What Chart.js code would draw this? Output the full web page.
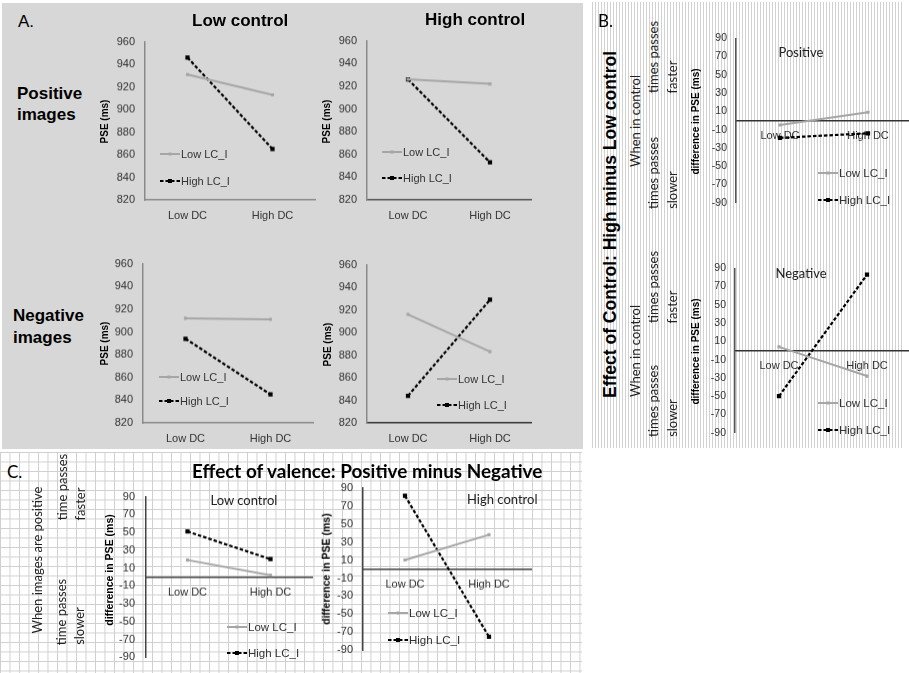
<!DOCTYPE html>
<html><head><meta charset="utf-8">
<script src="https://cdn.jsdelivr.net/npm/chart.js@4.4.1/dist/chart.umd.min.js"></script>
<style>
html,body{margin:0;padding:0;background:#fff;}
#page{position:relative;width:909px;height:673px;overflow:hidden;background:#fff;}
.bg{position:absolute;}
canvas{position:absolute;}
.t{position:absolute;white-space:nowrap;line-height:1;}
svg{position:absolute;overflow:visible;}
</style></head><body><div id="page">
<div class="bg" id="bgA" style="left:2px;top:3px;width:581px;height:446px;background:#d7d7d7;"></div>
<div class="bg" id="bgB" style="left:590px;top:2px;width:314px;height:446px;background:repeating-linear-gradient(to right,#fff 0px,#fff 2px,#d2d2d2 2px,#d2d2d2 3px);"></div>
<div class="bg" id="bgC" style="left:0px;top:452px;width:582px;height:221px;background-color:#fff;background-image:linear-gradient(to right,#cfcfcf 1px,transparent 1px),linear-gradient(to bottom,#cfcfcf 1px,transparent 1px);background-size:9.5px 9.5px;"></div>
</div>
<script>
// ---------------- DATA ----------------
const categories = ["Low DC", "High DC"];
const seriesNames = ["Low LC_I", "High LC_I"];
// Panel A: PSE (ms)
const A_posLowCtrl_lowLC  = [931, 913];
const A_posLowCtrl_highLC = [946, 865];
const A_posHighCtrl_lowLC  = [926, 922];
const A_posHighCtrl_highLC = [926, 853];
const A_negLowCtrl_lowLC  = [912, 911];
const A_negLowCtrl_highLC = [894, 845];
const A_negHighCtrl_lowLC  = [916, 883];
const A_negHighCtrl_highLC = [844, 929];
// Panel B: High minus Low control
const B_pos_lowLC  = [-5, 9];
const B_pos_highLC = [-19, -14];
const B_neg_lowLC  = [4, -28];
const B_neg_highLC = [-50, 83];
// Panel C: Positive minus Negative
const C_lowCtrl_lowLC  = [19, 2];
const C_lowCtrl_highLC = [51, 20];
const C_highCtrl_lowLC  = [10, 38];
const C_highCtrl_highLC = [81, -75];
// tick labels
const A_yTicks = [820, 840, 860, 880, 900, 920, 940, 960];
const diff_yTicks = [-90, -70, -50, -30, -10, 10, 30, 50, 70, 90];

// ---------------- HELPERS ----------------
const page = document.getElementById('page');
const FA = "'Liberation Sans', Arial, sans-serif";
const FL = "Lato, 'Open Sans', sans-serif";
Chart.defaults.font.family = FA;

function T(txt, o) {
  const d = document.createElement('div');
  d.className = 't';
  d.textContent = txt;
  const fam = o.fam || FA;
  let size = o.size;
  d.style.font = (o.wt || 400) + ' ' + size + 'px ' + fam;
  d.style.color = o.col || '#000';
  page.appendChild(d);
  let w = d.offsetWidth;
  if (o.fitW) {
    size = size * o.fitW / w;
    d.style.font = (o.wt || 400) + ' ' + size + 'px ' + fam;
    w = d.offsetWidth;
  }
  const h = d.offsetHeight;
  if (!o.rot) {
    let left = o.x;
    if (o.al === 'c') left = o.x - w / 2; else if (o.al === 'r') left = o.x - w;
    d.style.left = left + 'px';
    d.style.top = (o.y - h / 2) + 'px';
  } else {
    let cy = o.y;
    if (o.al === 'b') cy = o.y - w / 2;
    d.style.left = (o.x - w / 2) + 'px';
    d.style.top = (cy - h / 2) + 'px';
    d.style.transform = 'rotate(-90deg)';
  }
  return d;
}

function leg(x, y, type, text, size) {
  const s = document.createElementNS('http://www.w3.org/2000/svg', 'svg');
  s.setAttribute('width', 22); s.setAttribute('height', 8);
  s.style.left = x + 'px'; s.style.top = (y - 4) + 'px';
  if (type === 0) {
    s.innerHTML = '<line x1="0" y1="4" x2="20" y2="4" stroke="#a6a6a6" stroke-width="2"/><rect x="8.5" y="2.5" width="3" height="3" fill="#a6a6a6"/>';
  } else {
    s.innerHTML = '<line x1="0" y1="4" x2="20" y2="4" stroke="#000" stroke-width="2" stroke-dasharray="3.5 2"/><rect x="8" y="2" width="4" height="4" fill="#000"/>';
  }
  page.appendChild(s);
  T(text, {x: x + 21, y: y, size: size, col: '#333'});
}

function cfg(o, Hx, Wy, padT, padR, padB) {
  const ticks = o.ticks;
  return {
    type: 'line',
    data: {
      labels: categories,
      datasets: [
        {label: seriesNames[0], data: o.low, borderColor: '#a6a6a6', backgroundColor: '#a6a6a6',
         borderWidth: 2, pointStyle: 'rect', pointRadius: 2.2, pointBorderWidth: 0, tension: 0},
        {label: seriesNames[1], data: o.high, borderColor: '#000', backgroundColor: '#000',
         borderWidth: 2.2, borderDash: [3.5, 2], pointStyle: 'rect', pointRadius: 3, pointBorderWidth: 0, tension: 0}
      ]
    },
    options: {
      responsive: false, animation: false, devicePixelRatio: 1,
      layout: {padding: {top: padT, right: padR, bottom: padB, left: 0}},
      plugins: {legend: {display: false}, tooltip: {enabled: false}},
      scales: {
        x: {
          type: 'category', offset: true,
          position: o.zero ? {y: 0} : 'bottom',
          grid: {display: false, drawTicks: false},
          border: {display: true, color: o.xCol, width: o.xW || 1.5},
          ticks: {padding: o.xPad, color: '#333', maxRotation: 0, autoSkip: false,
                  font: {family: FA, size: o.xFont}},
          afterFit: s => { s.height = Hx; }
        },
        y: {
          type: 'linear', position: 'left',
          min: ticks[0], max: ticks[ticks.length - 1],
          grid: {display: false, drawTicks: false},
          border: {display: true, color: o.yCol, width: 1.5},
          ticks: {stepSize: ticks[1] - ticks[0], padding: o.yPad, color: '#333',
                  font: {family: FA, size: o.yFont}},
          afterFit: s => { s.width = Wy; }
        }
      }
    }
  };
}

function mk(o) {
  const Wy = 44, padT = 12, padR = 2, Hx = o.zero ? 0 : 30, padB = o.zero ? 10 : 0;
  const cv = document.createElement('canvas');
  page.appendChild(cv);
  const setSize = (w, h) => { cv.width = w; cv.height = h; cv.style.width = w + 'px'; cv.style.height = h + 'px'; };
  let cw = (o.right - o.left) + Wy + padR, ch = (o.bottom - o.top) + padT + Hx + padB;
  setSize(cw, ch);
  let chart = new Chart(cv, cfg(o, Hx, Wy, padT, padR, padB));
  let ca = chart.chartArea;
  const dw = (o.right - o.left) - (ca.right - ca.left), dh = (o.bottom - o.top) - (ca.bottom - ca.top);
  if (Math.abs(dw) > 0.5 || Math.abs(dh) > 0.5) {
    chart.destroy();
    setSize(cw + dw, ch + dh);
    chart = new Chart(cv, cfg(o, Hx, Wy, padT, padR, padB));
    ca = chart.chartArea;
  }
  cv.style.left = (o.left - ca.left) + 'px';
  cv.style.top = (o.top - ca.top) + 'px';
  return chart;
}

// ---------------- PANEL A ----------------
const aBase = {ticks: A_yTicks, xPad: 9, yPad: 10, xFont: 11, yFont: 11, yCol: '#8a8a8a'};
mk(Object.assign({}, aBase, {left: 145, top: 42, right: 315, bottom: 200, low: A_posLowCtrl_lowLC, high: A_posLowCtrl_highLC, xCol: '#8a8a8a'}));
mk(Object.assign({}, aBase, {left: 367, top: 41, right: 531, bottom: 200, low: A_posHighCtrl_lowLC, high: A_posHighCtrl_highLC, xCol: '#555'}));
mk(Object.assign({}, aBase, {left: 143, top: 264, right: 313, bottom: 423, low: A_negLowCtrl_lowLC, high: A_negLowCtrl_highLC, xCol: '#8a8a8a'}));
mk(Object.assign({}, aBase, {left: 367, top: 265, right: 531, bottom: 423, low: A_negHighCtrl_lowLC, high: A_negHighCtrl_highLC, xCol: '#333'}));

T('A.', {x: 18, y: 22, size: 17});
T('Low control', {x: 192, y: 21, size: 17, wt: 700});
T('High control', {x: 425, y: 20, size: 17, wt: 700});
T('Positive', {x: 17, y: 94, size: 17, wt: 700});
T('images', {x: 17, y: 115, size: 17, wt: 700});
T('Negative', {x: 13, y: 316, size: 17, wt: 700});
T('images', {x: 13, y: 338, size: 17, wt: 700});
T('PSE (ms)', {x: 105, y: 121, size: 10, wt: 700, rot: true});
T('PSE (ms)', {x: 327, y: 121, size: 10, wt: 700, rot: true});
T('PSE (ms)', {x: 105, y: 343, size: 10, wt: 700, rot: true});
T('PSE (ms)', {x: 328, y: 344, size: 10, wt: 700, rot: true});
leg(160, 154, 0, seriesNames[0], 11); leg(160, 181, 1, seriesNames[1], 11);
leg(382, 152, 0, seriesNames[0], 11); leg(382, 178, 1, seriesNames[1], 11);
leg(159, 377, 0, seriesNames[0], 11); leg(159, 401, 1, seriesNames[1], 11);
leg(437, 379, 0, seriesNames[0], 11); leg(437, 405, 1, seriesNames[1], 11);

// ---------------- PANEL B ----------------
const bBase = {ticks: diff_yTicks, zero: true, xPad: 9, yPad: 9, xFont: 11, yFont: 10.5, yCol: '#555', xCol: '#333'};
mk(Object.assign({}, bBase, {left: 736, top: 38, right: 912, bottom: 203, low: B_pos_lowLC, high: B_pos_highLC}));
mk(Object.assign({}, bBase, {left: 735, top: 268, right: 911, bottom: 433, low: B_neg_lowLC, high: B_neg_highLC}));

T('B.', {x: 598, y: 20, size: 17, fam: FL});
T('Positive', {x: 801, y: 52, size: 13, fam: FL, al: 'c', col: '#222'});
T('Negative', {x: 801, y: 273, size: 13, fam: FL, al: 'c', col: '#222'});
T('Effect of Control: High minus Low control', {x: 610, y: 224, size: 17.5, wt: 700, rot: true});
T('difference in PSE (ms)', {x: 695, y: 121, size: 10, wt: 700, rot: true});
T('difference in PSE (ms)', {x: 695, y: 351, size: 10, wt: 700, rot: true});
// top block
T('When in control', {x: 635, y: 121, size: 13, fam: FL, rot: true, col: '#222'});
T('times passes', {x: 653, y: 93, size: 13, fam: FL, rot: true, al: 'b', col: '#222'});
T('faster', {x: 672, y: 93, size: 13, fam: FL, rot: true, al: 'b', col: '#222'});
T('times passes', {x: 653, y: 209, size: 13, fam: FL, rot: true, al: 'b', col: '#222'});
T('slower', {x: 672, y: 209, size: 13, fam: FL, rot: true, al: 'b', col: '#222'});
// bottom block
T('When in control', {x: 635, y: 351, size: 13, fam: FL, rot: true, col: '#222'});
T('times passes', {x: 653, y: 323, size: 13, fam: FL, rot: true, al: 'b', col: '#222'});
T('faster', {x: 672, y: 323, size: 13, fam: FL, rot: true, al: 'b', col: '#222'});
T('times passes', {x: 653, y: 437, size: 13, fam: FL, rot: true, al: 'b', col: '#222'});
T('slower', {x: 672, y: 437, size: 13, fam: FL, rot: true, al: 'b', col: '#222'});
leg(818, 173, 0, seriesNames[0], 11.5); leg(818, 200, 1, seriesNames[1], 11.5);
leg(818, 403, 0, seriesNames[0], 11.5); leg(818, 430, 1, seriesNames[1], 11.5);

// ---------------- PANEL C ----------------
const cBase = {ticks: diff_yTicks, zero: true, xPad: 9, yPad: 11, xFont: 11, yFont: 11, yCol: '#444', xCol: '#444'};
mk(Object.assign({}, cBase, {left: 146, top: 497, right: 312, bottom: 657, low: C_lowCtrl_lowLC, high: C_lowCtrl_highLC}));
mk(Object.assign({}, cBase, {left: 363, top: 488, right: 531, bottom: 650, yPad: 10, low: C_highCtrl_lowLC, high: C_highCtrl_highLC}));

T('C.', {x: 7, y: 471, size: 17, fam: FL});
T('Effect of valence: Positive minus Negative', {x: 192, y: 470, size: 17, wt: 700, fam: FL, fitW: 351});
T('Low control', {x: 244, y: 500, size: 13, fam: FL, al: 'c', col: '#222'});
T('High control', {x: 502, y: 499, size: 13, fam: FL, al: 'c', col: '#222'});
T('difference in PSE (ms)', {x: 108, y: 570, size: 10.5, wt: 700, rot: true});
T('difference in PSE (ms)', {x: 325, y: 569, size: 10.5, wt: 700, rot: true});
T('When images are positive', {x: 37, y: 560, size: 13, fam: FL, rot: true, col: '#222'});
T('time passes', {x: 62, y: 520, size: 13, fam: FL, rot: true, al: 'b', col: '#222'});
T('faster', {x: 80, y: 520, size: 13, fam: FL, rot: true, al: 'b', col: '#222'});
T('time passes', {x: 61, y: 645, size: 13, fam: FL, rot: true, al: 'b', col: '#222'});
T('slower', {x: 79, y: 645, size: 13, fam: FL, rot: true, al: 'b', col: '#222'});
leg(227, 627, 0, seriesNames[0], 11.5); leg(227, 653, 1, seriesNames[1], 11.5);
leg(388, 613, 0, seriesNames[0], 11.5); leg(388, 640, 1, seriesNames[1], 11.5);
</script>
</body></html>
